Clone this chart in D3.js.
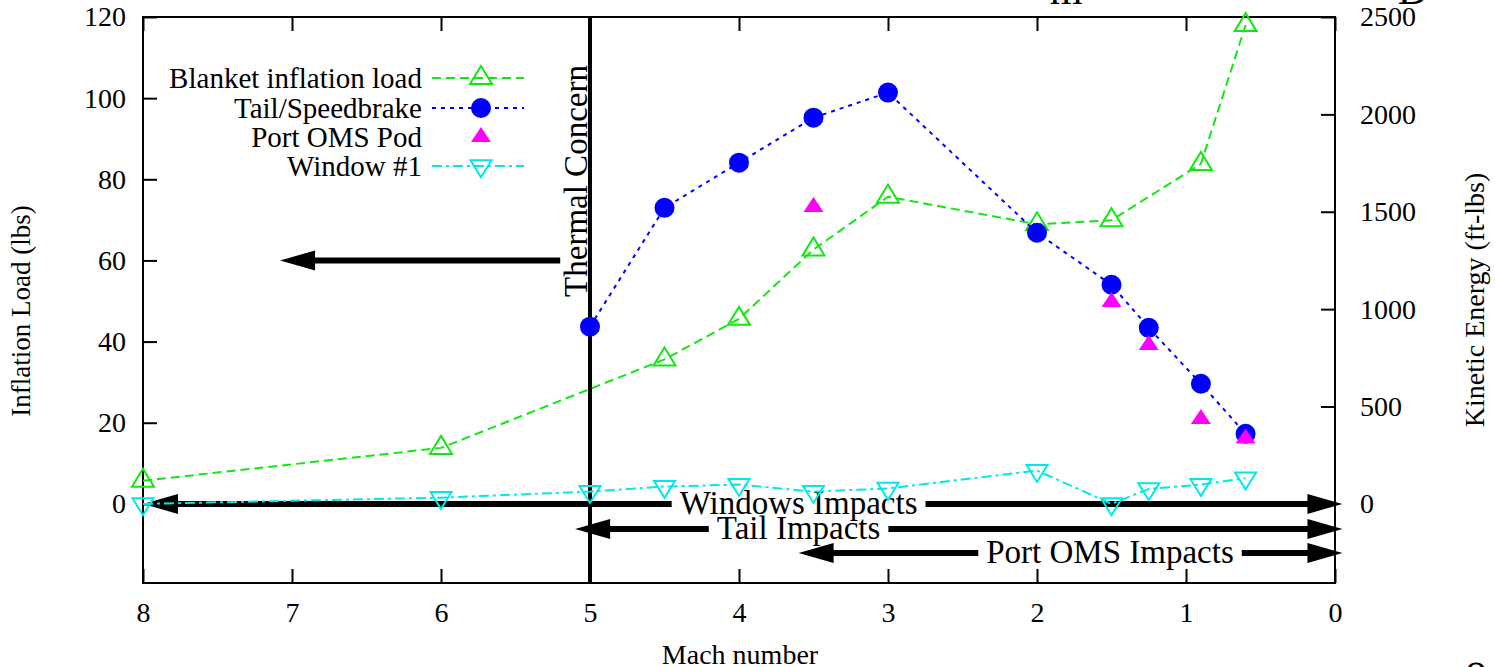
<!DOCTYPE html>
<html>
<head>
<meta charset="utf-8">
<script src="https://cdnjs.cloudflare.com/ajax/libs/d3/7.8.5/d3.min.js"></script>
<style>
body { margin: 0; background: #fff; }
svg { display: block; font-family: 'Liberation Serif', 'Times New Roman', serif; }
.tick line { stroke: #000; stroke-width: 2; }
.tick text { font-size: 28px; fill: #000; }
</style>
</head>
<body>
<svg width="1495" height="667"></svg>
<script>
// ---- data ----
const machTicks = [8, 7, 6, 5, 4, 3, 2, 1, 0]
const loadTicks = [0, 20, 40, 60, 80, 100, 120]
const energyTicks = [0, 500, 1000, 1500, 2000, 2500]

const seriesNames = ['Blanket inflation load', 'Tail/Speedbrake', 'Port OMS Pod', 'Window #1']

// blanket load in lbs (left axis)
const blanketMach = [8, 6, 4.5, 4, 3.5, 3, 2, 1.5, 0.9, 0.6]
const blanketLoad = [5.7, 13.8, 35.6, 45.6, 62.7, 75.7, 68.9, 69.9, 83.8, 118]

// kinetic energy in ft-lbs (right axis)
const tailMach = [5, 4.5, 4, 3.5, 3, 2, 1.5, 1.25, 0.9, 0.6]
const tailEnergy = [910, 1520, 1752, 1983, 2112, 1392, 1125, 904, 617, 360]

const omsMach = [3.5, 1.5, 1.25, 0.9, 0.6]
const omsEnergy = [1525, 1037, 816, 436, 336]

const windowMach = [8, 6, 5, 4.5, 4, 3.5, 3, 2, 1.5, 1.25, 0.9, 0.6]
const windowEnergy = [0, 32, 63, 89, 99, 63, 79, 171, 0, 77, 99, 132]

// annotations (Mach / lbs units)
const impactLabels = ['Windows Impacts', 'Tail Impacts', 'Port OMS Impacts']
const impactLevel = [0, -6.2, -12.1]
const impactFrom = [8, 5.1, 3.6]
const impactTo = [-0.05, -0.05, -0.05]
const impactTextAt = [3.6, 3.6, 1.51]

const thermalMach = 5
const thermalArrow = { from: 5.2, to: 7.08, level: 60 }

// ---- scales ----
const svg = d3.select('svg')
const frame = { left: 143, right: 1335, top: 17, bottom: 583 }
const loadMin = -19.5

const x = d3.scaleLinear().domain([8, 0]).range([frame.left, frame.right])
const yL = d3.scaleLinear().domain([loadMin, 120]).range([frame.bottom, frame.top])
const yR = d3.scaleLinear().domain([loadMin * 2500 / 120, 2500]).range([frame.bottom, frame.top])

// triangle with its centroid on (0,0)
const tri = (w, h, down) => {
	const s = down ? -1 : 1
	return `M0,${-s * 2 * h / 3}L${w / 2},${s * h / 3}L${-w / 2},${s * h / 3}Z`
}

const styles = [
	{ color: '#11e811', dash: '9,5', marker: 'tri' },
	{ color: '#0000ff', dash: '4,5', marker: 'circle' },
	{ color: '#ff00ff', dash: null, marker: 'ftri' },
	{ color: '#00e8e8', dash: '10,4,3,4', marker: 'itri' }
]

const drawMarker = (g, type, color) => {
	if (type === 'circle') g.append('circle').attr('r', 10).attr('fill', color)
	else if (type === 'ftri') g.append('path').attr('d', tri(20, 15)).attr('fill', color)
	else if (type === 'tri') g.append('path').attr('d', tri(22, 18)).attr('fill', 'none').attr('stroke', color).attr('stroke-width', 2)
	else g.append('path').attr('d', tri(21, 17, true)).attr('fill', 'none').attr('stroke', color).attr('stroke-width', 2)
}

// ---- axes ----
const fmt = d3.format('d')
const axes = [
	svg.append('g')
		.attr('transform', `translate(0,${frame.bottom})`)
		.call(d3.axisBottom(x).tickValues(machTicks).tickSize(-14).tickPadding(19).tickFormat(fmt)),
	svg.append('g')
		.attr('transform', `translate(0,${frame.top})`)
		.call(d3.axisTop(x).tickValues(machTicks).tickSize(-14).tickFormat('')),
	svg.append('g')
		.attr('transform', `translate(${frame.left},0)`)
		.call(d3.axisLeft(yL).tickValues(loadTicks).tickSize(-14).tickPadding(17).tickFormat(fmt)),
	svg.append('g')
		.attr('transform', `translate(${frame.right},0)`)
		.call(d3.axisRight(yR).tickValues(energyTicks).tickSize(-14).tickPadding(25).tickFormat(fmt))
]
axes.forEach(a => a.attr('font-family', null).attr('font-size', null))
svg.selectAll('.domain').remove()

svg.append('rect')
	.attr('x', frame.left).attr('y', frame.top)
	.attr('width', frame.right - frame.left).attr('height', frame.bottom - frame.top)
	.attr('fill', 'none').attr('stroke', '#000').attr('stroke-width', 2)

// axis titles
svg.append('text')
	.attr('transform', `translate(30,311) rotate(-90)`)
	.attr('text-anchor', 'middle').attr('font-size', 27)
	.text('Inflation Load (lbs)')
svg.append('text')
	.attr('transform', `translate(1484,300) rotate(-90)`)
	.attr('text-anchor', 'middle').attr('font-size', 28)
	.text('Kinetic Energy (ft-lbs)')
svg.append('text')
	.attr('x', 740).attr('y', 664)
	.attr('text-anchor', 'middle').attr('font-size', 28)
	.text('Mach number')

// clipped text from the surrounding page
svg.append('text').attr('x', 1066).attr('y', 4).attr('text-anchor', 'middle').attr('font-size', 42).text('m')
svg.append('text').attr('x', 1413).attr('y', 4).attr('text-anchor', 'middle').attr('font-size', 42).text('D')
svg.append('text').attr('x', 1476).attr('y', 682).attr('text-anchor', 'middle').attr('font-size', 42).text('o')

// ---- thermal concern ----
svg.append('line')
	.attr('x1', x(thermalMach)).attr('x2', x(thermalMach))
	.attr('y1', frame.top).attr('y2', frame.bottom)
	.attr('stroke', '#000').attr('stroke-width', 4)
svg.append('text')
	.attr('transform', `translate(${x(thermalMach) - 3},181) rotate(-90)`)
	.attr('text-anchor', 'middle').attr('font-size', 33)
	.text('Thermal Concern')

const head = (tipX, y, dir) => {
	const len = 35, half = 10
	svg.append('path')
		.attr('d', `M${tipX},${y}L${tipX + dir * len},${y - half}L${tipX + dir * len},${y + half}Z`)
		.attr('fill', '#000')
}
const bar = (x1, x2, y) => {
	svg.append('line')
		.attr('x1', x1).attr('x2', x2).attr('y1', y).attr('y2', y)
		.attr('stroke', '#000').attr('stroke-width', 6)
}

{
	const ty = yL(thermalArrow.level)
	bar(x(thermalArrow.from), x(thermalArrow.to) + 20, ty)
	head(x(thermalArrow.to), ty, 1)
}

// ---- impact arrows ----
impactLabels.forEach((label, i) => {
	const ay = yL(impactLevel[i])
	const t = svg.append('text')
		.attr('x', x(impactTextAt[i])).attr('y', ay + 10)
		.attr('text-anchor', 'middle').attr('font-size', 33)
		.text(label)
	const bb = t.node().getBBox()
	const x1 = x(impactFrom[i]), x2 = x(impactTo[i])
	bar(x1 + 20, bb.x - 8, ay)
	bar(bb.x + bb.width + 8, x2 - 20, ay)
	head(x1, ay, 1)
	head(x2, ay, -1)
})

// ---- series ----
const series = [
	{ mach: blanketMach, vals: blanketLoad, y: yL },
	{ mach: tailMach, vals: tailEnergy, y: yR },
	{ mach: omsMach, vals: omsEnergy, y: yR },
	{ mach: windowMach, vals: windowEnergy, y: yR }
]
series.forEach((s, i) => {
	const st = styles[i]
	const pts = s.mach.map((m, j) => [x(m), s.y(s.vals[j])])
	if (st.dash) {
		svg.append('path')
			.attr('d', d3.line()(pts))
			.attr('fill', 'none').attr('stroke', st.color)
			.attr('stroke-width', 2).attr('stroke-dasharray', st.dash)
	}
	pts.forEach(p => {
		const g = svg.append('g').attr('transform', `translate(${p})`)
		drawMarker(g, st.marker, st.color)
	})
})

// ---- legend ----
const legendY = [78, 108, 137, 166]
seriesNames.forEach((name, i) => {
	const st = styles[i]
	const ly = legendY[i]
	svg.append('text')
		.attr('x', 422).attr('y', ly + 10)
		.attr('text-anchor', 'end').attr('font-size', 29)
		.text(name)
	if (st.dash) {
		svg.append('line')
			.attr('x1', 432).attr('x2', 524).attr('y1', ly).attr('y2', ly)
			.attr('stroke', st.color).attr('stroke-width', 2).attr('stroke-dasharray', st.dash)
	}
	const g = svg.append('g').attr('transform', `translate(${[481, ly]})`)
	drawMarker(g, st.marker, st.color)
})
</script>
</body>
</html>
